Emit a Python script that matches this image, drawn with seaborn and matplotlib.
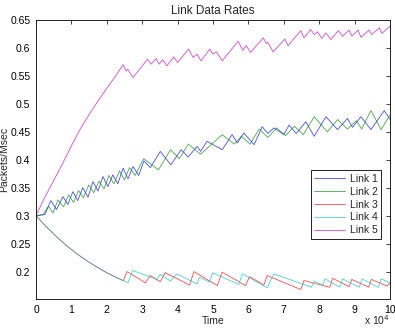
import matplotlib
matplotlib.use('Agg')
import matplotlib.pyplot as plt
from matplotlib.ticker import FixedLocator
import seaborn as sns
import pandas as pd

sns.set_style('white')
plt.rcParams['font.family'] = ['Liberation Sans', 'DejaVu Sans']

# time in units of 10^4
link1_t = [0, 0.25, 0.42, 0.58, 0.76, 0.90, 1.04, 1.18, 1.32, 1.47, 1.61, 1.75, 1.89, 2.03,
           2.17, 2.31, 2.46, 2.60, 2.74, 2.90, 3.05, 3.23, 3.51, 3.81, 4.10, 4.30, 4.55, 4.65,
           4.83, 5.26, 5.54, 5.69, 5.87, 6.16, 6.39, 6.55, 6.72, 7.00, 7.15, 7.35, 7.62, 7.86,
           8.19, 8.52, 8.80, 8.94, 9.18, 9.46, 9.84, 10.0]
link1_r = [0.300, 0.302, 0.327, 0.311, 0.334, 0.320, 0.343, 0.327, 0.350, 0.333, 0.361, 0.344,
           0.370, 0.352, 0.373, 0.357, 0.385, 0.366, 0.388, 0.372, 0.398, 0.386, 0.415, 0.391,
           0.418, 0.405, 0.424, 0.415, 0.433, 0.418, 0.445, 0.430, 0.448, 0.427, 0.459, 0.447,
           0.457, 0.445, 0.462, 0.447, 0.468, 0.442, 0.477, 0.454, 0.474, 0.458, 0.477, 0.454,
           0.488, 0.472]

link2_t = [0, 0.20, 0.35, 0.48, 0.62, 0.78, 0.92, 1.06, 1.20, 1.34, 1.49, 1.63, 1.78, 1.92,
           2.06, 2.20, 2.36, 2.50, 2.64, 2.80, 3.04, 3.46, 3.80, 4.05, 4.30, 4.65, 5.26, 5.60,
           5.80, 6.05, 6.30, 6.55, 6.80, 7.05, 7.30, 7.55, 7.86, 8.23, 8.52, 8.80, 9.05, 9.20,
           9.46, 9.75, 10.0]
link2_r = [0.300, 0.302, 0.317, 0.305, 0.328, 0.316, 0.337, 0.324, 0.345, 0.332, 0.355, 0.341,
           0.362, 0.348, 0.372, 0.357, 0.380, 0.364, 0.386, 0.372, 0.402, 0.382, 0.418, 0.402,
           0.428, 0.410, 0.445, 0.428, 0.442, 0.428, 0.455, 0.440, 0.457, 0.443, 0.460, 0.445,
           0.477, 0.450, 0.472, 0.455, 0.470, 0.455, 0.488, 0.454, 0.480]

link3_t = [0, 0.25, 0.57, 0.85, 1.13, 1.42, 1.70, 2.0, 2.25, 2.47, 2.57, 3.09, 3.23, 3.51,
           3.65, 4.34, 4.46, 5.12, 5.26, 5.92, 6.03, 6.44, 6.53, 7.48, 7.57, 8.30, 8.38, 8.85,
           8.92, 9.40, 9.47, 9.92, 10.0]
link3_r = [0.300, 0.283, 0.263, 0.247, 0.233, 0.220, 0.209, 0.198, 0.190, 0.184, 0.200, 0.180,
           0.193, 0.182, 0.198, 0.176, 0.200, 0.175, 0.199, 0.175, 0.191, 0.176, 0.193, 0.168,
           0.184, 0.172, 0.188, 0.173, 0.186, 0.172, 0.186, 0.174, 0.180]

link4_t = [0, 0.25, 0.57, 0.85, 1.13, 1.42, 1.70, 2.0, 2.25, 2.47, 2.60, 2.73, 3.42, 3.51,
           3.80, 3.98, 4.55, 4.62, 4.90, 4.99, 5.73, 5.83, 6.53, 6.72, 7.78, 7.86, 8.10, 8.17,
           8.58, 8.66, 9.13, 9.21, 9.67, 9.75, 10.0]
link4_r = [0.300, 0.283, 0.263, 0.247, 0.233, 0.220, 0.209, 0.198, 0.190, 0.184, 0.180, 0.202,
           0.186, 0.195, 0.183, 0.196, 0.178, 0.190, 0.181, 0.198, 0.177, 0.196, 0.171, 0.196,
           0.172, 0.183, 0.176, 0.187, 0.172, 0.187, 0.172, 0.187, 0.172, 0.187, 0.180]

link5_t = [0, 0.25, 0.5, 0.75, 1.0, 1.25, 1.5, 1.75, 2.0, 2.25, 2.46, 2.54, 2.59, 2.74, 3.15,
           3.25, 3.39, 3.48, 3.58, 3.70, 3.89, 4.00, 4.31, 4.44, 4.55, 4.66, 4.91, 4.99, 5.10,
           5.26, 5.71, 5.84, 5.94, 6.06, 6.42, 6.51, 6.55, 6.70, 7.03, 7.12, 7.48, 7.57, 7.76,
           7.86, 7.95, 8.07, 8.19, 8.33, 8.54, 8.66, 8.85, 8.92, 9.10, 9.18, 9.41, 9.48, 9.70,
           9.77, 10.0]
link5_r = [0.300, 0.333, 0.363, 0.393, 0.425, 0.455, 0.481, 0.505, 0.528, 0.550, 0.570, 0.559,
           0.562, 0.547, 0.580, 0.571, 0.581, 0.571, 0.579, 0.568, 0.584, 0.574, 0.598, 0.583,
           0.589, 0.577, 0.598, 0.589, 0.593, 0.577, 0.612, 0.596, 0.604, 0.592, 0.618, 0.608,
           0.610, 0.593, 0.616, 0.604, 0.631, 0.618, 0.633, 0.624, 0.629, 0.617, 0.627, 0.615,
           0.631, 0.621, 0.632, 0.621, 0.632, 0.619, 0.632, 0.624, 0.636, 0.626, 0.639]

links = ['Link 1', 'Link 2', 'Link 3', 'Link 4', 'Link 5']
colors = ['#0000ff', '#008000', '#ff0000', '#00bfbf', '#bf00bf']
x_ticks = list(range(0, 11))
y_ticks = [0.2, 0.25, 0.3, 0.35, 0.4, 0.45, 0.5, 0.55, 0.6, 0.65]

series = [(link1_t, link1_r), (link2_t, link2_r), (link3_t, link3_r),
          (link4_t, link4_r), (link5_t, link5_r)]
frames = []
for name, (t, r) in zip(links, series):
    frames.append(pd.DataFrame({'time': t, 'rate': r, 'link': name}))
df = pd.concat(frames, ignore_index=True)

fig = plt.figure(figsize=(3.95, 3.31), dpi=100)
ax = fig.add_axes([36/395, 32/331, 354/395, 279/331])

sns.lineplot(data=df, x='time', y='rate', hue='link', palette=colors,
             estimator=None, sort=False, linewidth=0.6, alpha=0.7, ax=ax)

ax.set_xlim(0, 10)
ax.set_ylim(0.151, 0.65)
ax.xaxis.set_major_locator(FixedLocator(x_ticks))
ax.set_xticklabels([str(v) for v in x_ticks])
ax.yaxis.set_major_locator(FixedLocator(y_ticks))
ax.set_yticklabels(['%g' % v for v in y_ticks])
ax.tick_params(direction='in', length=3, width=0.6, labelsize=7.5, pad=4,
               top=True, right=True, colors='#222222', labelcolor='black')
for s in ax.spines.values():
    s.set_linewidth(0.7)
    s.set_color('#222222')

ax.set_title('Link Data Rates', fontsize=8.5, pad=4)
ax.set_xlabel('Time', fontsize=7.5, labelpad=1)
ax.set_ylabel('Packets/Msec', fontsize=7.5)
ax.yaxis.set_label_coords(-0.075, 0.5)
ax.text(1.0, -0.093, r'x 10$^4$', transform=ax.transAxes, ha='right', va='baseline',
        fontsize=7.5)

handles, labels = ax.get_legend_handles_labels()
leg = ax.legend(handles, labels, loc='upper right', bbox_to_anchor=(0.975, 0.462),
                fontsize=7.5, handlelength=3.0, labelspacing=0.28, borderpad=0.35,
                handletextpad=0.4, fancybox=False, frameon=True, framealpha=1,
                borderaxespad=0)
leg.get_frame().set_edgecolor('#222222')
leg.get_frame().set_linewidth(0.7)

fig.savefig('out.png', dpi=100)
